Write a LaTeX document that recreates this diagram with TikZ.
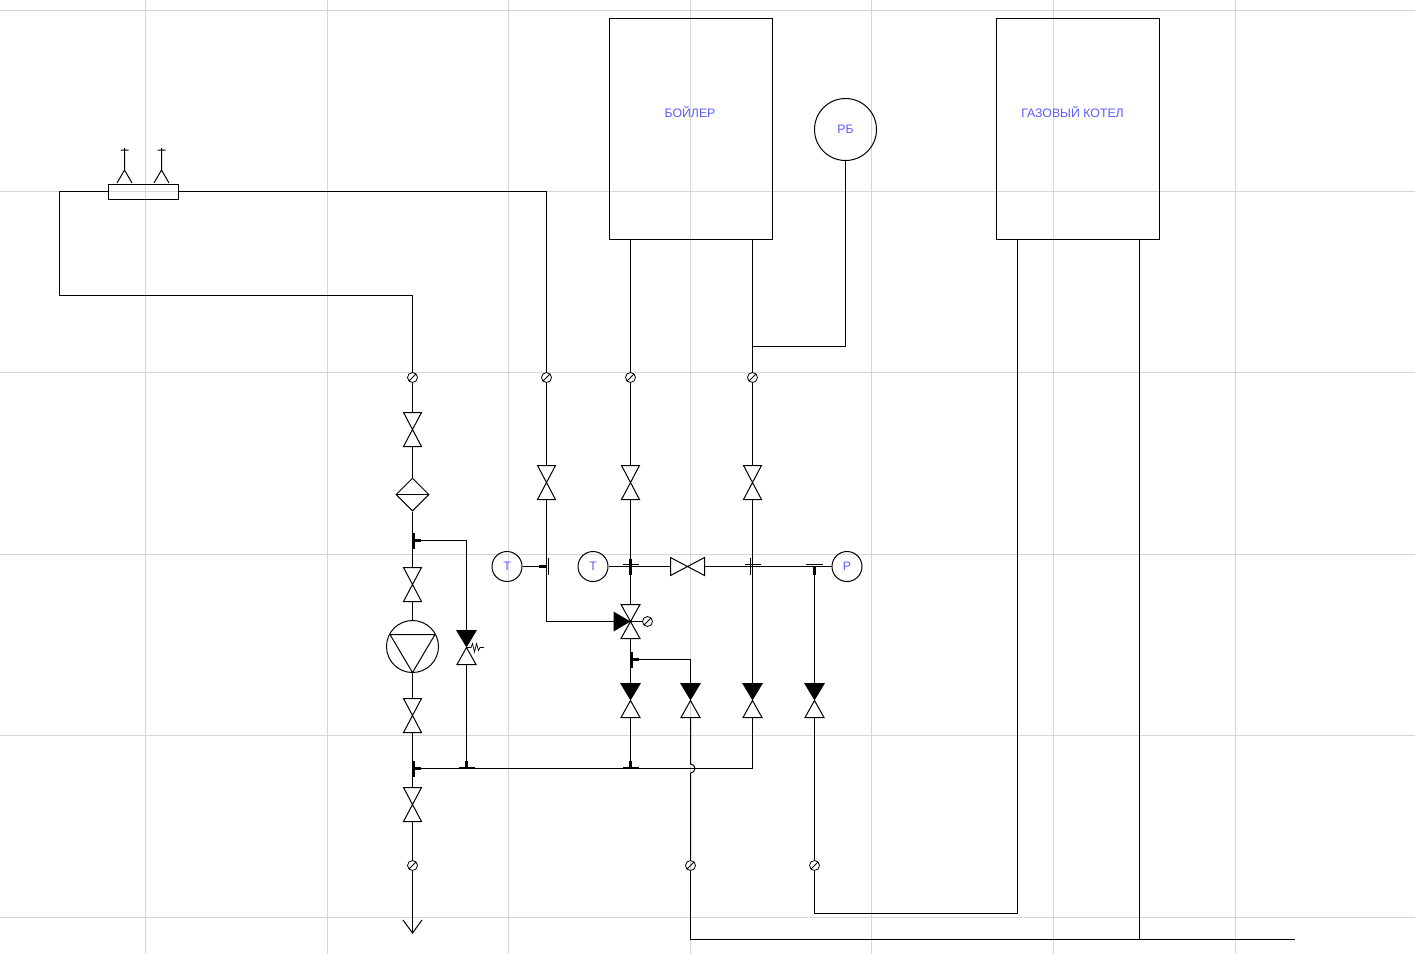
\documentclass[tikz,border=0pt]{standalone}
\usepackage{fontspec}
\setmainfont{Liberation Sans}
\usetikzlibrary{arrows,shapes.geometric}
\definecolor{corgrade}{RGB}{214,214,214}
\definecolor{cortexto}{RGB}{90,90,255}
\tikzset{
  pipe/.style={line width=1pt},
  bigbox/.style={draw, line width=1pt, minimum width=163, minimum height=221, inner sep=0, outer sep=0},
  gauge/.style={circle, draw, line width=1pt, minimum size=30, inner sep=0, text=cortexto, font=\fontsize{12.3}{12.3}\selectfont},
  fitting/.style={circle, draw, line width=.8pt, minimum size=10, inner sep=0,
    path picture={\draw[line width=.8pt] (path picture bounding box.south west) -- (path picture bounding box.north east);}},
  filterbox/.style={diamond, draw, line width=1pt, aspect=1, minimum size=33, inner sep=0,
    path picture={\draw[pipe] (path picture bounding box.west) -- (path picture bounding box.east);}},
  pumpbox/.style={circle, draw, line width=1pt, minimum size=52, inner sep=0},
  label/.style={text=cortexto, font=\fontsize{12.3}{12.3}\selectfont},
  valve/.pic={
    \draw[pipe] (-9,-17) -- (9,-17) -- (-9,17) -- (9,17) -- cycle;
    \coordinate (-top) at (0,-17);
    \coordinate (-bot) at (0,17);
  },
  closedvalve/.pic={
    \fill (-10.5,-17.5) -- (10.5,-17.5) -- (0,0) -- cycle;
    \draw[pipe] (0,0) -- (-9.5,17) -- (9.5,17) -- cycle;
    \coordinate (-top) at (0,-17);
    \coordinate (-bot) at (0,17);
  },
  threeway/.pic={
    \draw[pipe] (-9.5,-17) -- (9.5,-17) -- (-9.5,17) -- (9.5,17) -- cycle;
    \fill (0,0) -- (-17,-10) -- (-17,10) -- cycle;
    \coordinate (-top) at (0,-17);
    \coordinate (-bot) at (0,17);
    \coordinate (-left) at (-17,0);
    \coordinate (-right) at (0,0);
  },
  vent/.pic={
    \draw[line width=1pt] (-7.5,13) -- (0,0) -- (7.5,13) (0,0) -- (0,-22) (-4,-20) -- (4,-20);
  },
  tee/.pic={
    \fill (-.5,-8) rectangle (2,8);
    \fill (0,-1.3) rectangle (8,1.3);
  },
  teedouble/.pic={
    \draw[pipe] (0,-8.5) -- (0,8.5) (2,-8.5) -- (2,8.5);
    \fill (0,-1.3) rectangle (-8,1.3);
  },
  crossbar/.pic={
    \fill (-1.5,-8) rectangle (1.5,8);
    \draw[pipe] (-8,-2) -- (8,-2);
  },
  crossthin/.pic={
    \draw[pipe] (-2,-8.5) -- (-2,8.5);
    \draw[pipe] (-8,-2) -- (8,-2);
  },
}

\begin{document}
\begin{tikzpicture}[x=1pt, y=-1pt, line join=miter]
  \useasboundingbox (0,0) rectangle (1415,954);
  % grid
  \foreach \gx in {145.7,327,508.4,690.2,871.3,1053,1235}
    \draw[corgrade, line width=.9pt] (\gx,0) -- (\gx,954);
  \foreach \gy in {10.2,191.6,372.9,554.3,735.6,917}
    \draw[corgrade, line width=.9pt] (0,\gy) -- (1415,\gy);

  % boilers
  \node [bigbox, anchor=north west] (boiler) at (609.5,18.5) {};
  \node [bigbox, anchor=north west] (gasboiler) at (996.5,18.5) {};
  \node [label] (boilertxt) at (690,111.5) {БОЙЛЕР};
  \node [label] (gastxt) at (1072.5,111.5) {ГАЗОВЫЙ КОТЕЛ};
  \node [gauge, minimum size=62] (tank) at (845.5,129.5) {РБ};

  % gauges
  \node [gauge] (tempa) at (507,566.5) {Т};
  \node [gauge] (tempb) at (593,566.5) {Т};
  \node [gauge] (press) at (847,566.5) {Р};

  % collector with vents
  \node [draw, line width=1pt, minimum width=70, minimum height=15, inner sep=0] (coll) at (143,191.5) {};
  \pic at (124.5,170) {vent};
  \pic at (161.5,170) {vent};

  % fittings
  \node [fitting] (fa) at (412.5,377.5) {};
  \node [fitting] (fb) at (546.5,377.5) {};
  \node [fitting] (fc) at (630.5,377.5) {};
  \node [fitting] (fd) at (752.5,377.5) {};
  \node [fitting] (fe) at (412.5,865.5) {};
  \node [fitting] (ff) at (690.5,865.5) {};
  \node [fitting] (fg) at (814.5,865.5) {};
  \node [fitting] (fh) at (647.5,621.5) {};

  % valves
  \pic (va) at (412.5,429.5) {valve};
  \pic (vb) at (412.5,584.5) {valve};
  \pic (vc) at (412.5,715.5) {valve};
  \pic (vd) at (412.5,804.5) {valve};
  \pic (ve) at (546.5,482.5) {valve};
  \pic (vf) at (630.5,482.5) {valve};
  \pic (vg) at (752.5,482.5) {valve};
  \pic[rotate=90] (vh) at (687.5,566.5) {valve};
  \pic (tw) at (630.5,621.5) {threeway};
  \pic (ca) at (630.5,700.5) {closedvalve};
  \pic (cb) at (690.5,700.5) {closedvalve};
  \pic (cc) at (752.5,700.5) {closedvalve};
  \pic (cd) at (814.5,700.5) {closedvalve};
  \pic (relief) at (466.5,647.5) {closedvalve};
  \draw[line width=.7pt] (466.5,647.5) -- (471,647.5) -- (472.5,643.5) -- (474.5,652) -- (476.5,643.5) -- (478.5,650.5) -- (480,647.5) -- (484,647.5);

  % filter and pump
  \node [filterbox] (filter) at (412.5,494.5) {};
  \node [pumpbox] (pump) at (412.5,646.5) {};
  \draw[pipe] (390,634.5) -- (435,634.5) -- (412.5,672.5) -- cycle;

  % joints
  \coordinate (ja) at (412.5,540.5);
  \coordinate (jb) at (412.5,768.5);
  \coordinate (jc) at (466.5,768.5);
  \coordinate (jd) at (546.5,566.5);
  \coordinate (je) at (630.5,566.5);
  \coordinate (jf) at (752.5,566.5);
  \coordinate (jg) at (814.5,566.5);
  \coordinate (jh) at (630.5,659.5);
  \coordinate (ji) at (630.5,768.5);
  \coordinate (jj) at (752.5,346.5);
  \pic at (ja) {tee};
  \pic at (jb) {tee};
  \pic[rotate=90] at (jc) {tee};
  \pic at (jd) {teedouble};
  \pic at (jh) {tee};
  \pic[rotate=90] at (ji) {tee};
  \pic[rotate=90] at (jg) {teedouble};
  \pic at (je) {crossbar};
  \pic at (jf) {crossthin};

  % pipes
  \draw[pipe] (coll.west) -| (59.5,295.5) -| (fa.north);
  \draw[pipe] (coll.east) -| (fb.north);
  \draw[pipe] (boiler.south west) ++(21,0) coordinate (ba) -- (fc.north);
  \draw[pipe] (boiler.south east) ++(-20,0) coordinate (bb) -- (fd.north);
  \draw[pipe] (jj) -| (tank.south);
  \draw[pipe] (fa.south) -- (va-top);
  \draw[pipe] (va-bot) -- (filter.north);
  \draw[pipe] (filter.south) -- (ja) -- (vb-top);
  \draw[pipe] (vb-bot) -- (pump.north);
  \draw[pipe] (pump.south) -- (vc-top);
  \draw[pipe] (vc-bot) -- (jb) -- (vd-top);
  \draw[pipe] (vd-bot) -- (fe.north);
  \coordinate (drain) at (412.5,933);
  \draw[pipe] (fe.south) -- (drain);
  \draw[pipe] (403,920) -- (drain) -- (422,920);
  \draw[pipe] (ja) -| (relief-top);
  \draw[pipe] (relief-bot) -- (jc);
  \draw[pipe] (jb) -- (cc-bot |- jb) -- (cc-bot);
  \draw[pipe] (fb.south) -- (ve-top);
  \draw[pipe] (ve-bot) -- (jd);
  \draw[pipe] (jd) |- (tw-left);
  \draw[pipe] (tempa.east) -- (jd);
  \draw[pipe] (tempb.east) -- (vh-top);
  \draw[pipe] (vh-bot) -- (press.west);
  \draw[pipe] (fc.south) -- (vf-top);
  \draw[pipe] (vf-bot) -- (tw-top);
  \draw[pipe] (tw-bot) -- (ca-top);
  \draw[pipe] (tw-right) -- (fh.west);
  \draw[pipe] (jh) -| (cb-top);
  \draw[pipe] (ca-bot) -- (ji);
  \draw[pipe] (fd.south) -- (vg-top);
  \draw[pipe] (vg-bot) -- (cc-top);
  \draw[pipe] (jg) -- (cd-top);
  \draw[pipe] (cd-bot) -- (fg.north);
  \draw[pipe] (cb-bot) -- (690.5,764) arc[start angle=-90, end angle=90, radius=4.5] -- (ff.north);
  % lines to gas boiler
  \coordinate (ga) at (1017.5,239.5);
  \coordinate (gb) at (1139.5,239.5);
  \draw[pipe] (fg.south) |- (ga |- 0,913.5) -- (ga);
  \coordinate (returnend) at (1295,939.5);
  \draw[pipe] (ff.south) |- (returnend);
  \draw[pipe] (gb) -- (gb |- returnend);
\end{tikzpicture}
\end{document}
